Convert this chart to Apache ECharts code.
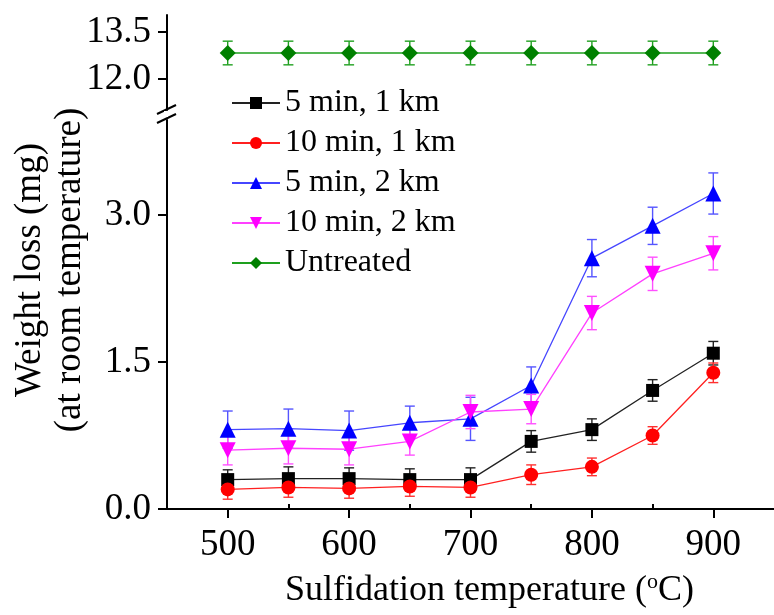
<!DOCTYPE html>
<html><head><meta charset="utf-8">
<script src="https://cdn.jsdelivr.net/npm/echarts@6/dist/echarts.min.js"></script>
<style>html,body{margin:0;padding:0;background:#fff}#c{width:774px;height:615px}</style>
</head><body><div id="c"></div>
<script>
// ---- data ----
const temps = [500, 550, 600, 650, 700, 750, 800, 850, 900];
const names = ['5 min, 1 km', '10 min, 1 km', '5 min, 2 km', '10 min, 2 km', 'Untreated'];
const v5min1km  = [0.30, 0.31, 0.31, 0.30, 0.30, 0.69, 0.81, 1.21, 1.59];
const e5min1km  = [0.10, 0.12, 0.11, 0.11, 0.12, 0.11, 0.11, 0.11, 0.12];
const v10min1km = [0.20, 0.22, 0.21, 0.23, 0.22, 0.35, 0.43, 0.75, 1.39];
const e10min1km = [0.10, 0.10, 0.10, 0.10, 0.10, 0.10, 0.09, 0.09, 0.10];
const v5min2km  = [0.81, 0.82, 0.80, 0.88, 0.92, 1.26, 2.56, 2.89, 3.22];
const e5min2km  = [0.19, 0.20, 0.20, 0.17, 0.22, 0.19, 0.19, 0.19, 0.21];
const v10min2km = [0.60, 0.62, 0.61, 0.69, 0.99, 1.02, 2.00, 2.40, 2.61];
const e10min2km = [0.15, 0.16, 0.16, 0.14, 0.17, 0.15, 0.17, 0.17, 0.17];
const vUntreated = [12.83, 12.83, 12.83, 12.83, 12.83, 12.83, 12.83, 12.83, 12.83];
const eUntreated = [0.38, 0.38, 0.38, 0.38, 0.38, 0.38, 0.38, 0.38, 0.38];
const xMajorTicks = [500, 600, 700, 800, 900];
const xMinorTicks = [550, 650, 750, 850];
const yLowMajor = [0, 1.5, 3.0];
const yLowMinor = [0.75, 2.25, 3.75];
const yUpMajor = [12.0, 13.5];
const yUpMinor = [11.25, 12.75];

const FONT = 'Liberation Serif';
const chart = echarts.init(document.getElementById('c'));

function pairs(v) { return temps.map((t, i) => [t, v[i]]); }
function errs(v, e) { return temps.map((t, i) => [t, v[i] - e[i], v[i] + e[i]]); }
function errRender(params, api) {
  const x = api.value(0), lo = api.value(1), hi = api.value(2);
  const p1 = api.coord([x, hi]), p2 = api.coord([x, lo]);
  const w = 5;
  const style = { stroke: api.visual('color'), lineWidth: 1.4 };
  return { type: 'group', children: [
    { type: 'line', shape: { x1: p1[0], y1: p1[1], x2: p2[0], y2: p2[1] }, style },
    { type: 'line', shape: { x1: p1[0] - w, y1: p1[1], x2: p1[0] + w, y2: p1[1] }, style },
    { type: 'line', shape: { x1: p2[0] - w, y1: p2[1], x2: p2[0] + w, y2: p2[1] }, style }
  ]};
}

const lineW = 1.3;
const specs = [
  { name: names[0], v: v5min1km, e: e5min1km, sym: 'rect', size: 13, rot: 0, mc: '#000000', lc: '#222222', ec: '#222222', grid: 0 },
  { name: names[1], v: v10min1km, e: e10min1km, sym: 'circle', size: 14, rot: 0, mc: '#ff0000', lc: '#ff2020', ec: '#ff3030', grid: 0 },
  { name: names[2], v: v5min2km, e: e5min2km, sym: 'triangle', size: 16, rot: 0, mc: '#0000ff', lc: '#4646ff', ec: '#5555ff', grid: 0 },
  { name: names[3], v: v10min2km, e: e10min2km, sym: 'triangle', size: 16, rot: 180, mc: '#ff00ff', lc: '#ff40ff', ec: '#ff50ff', grid: 0 },
  { name: names[4], v: vUntreated, e: eUntreated, sym: 'diamond', size: 16, rot: 0, mc: '#008000', lc: '#1ea01e', ec: '#20a020', grid: 1 }
];

const series = [];
specs.forEach(s => {
  const xi = s.grid === 0 ? 0 : 1;
  const yi = s.grid === 0 ? 0 : 2;
  series.push({
    type: 'custom', name: s.name + ' err', xAxisIndex: xi, yAxisIndex: yi,
    renderItem: errRender, encode: { x: 0, y: [1, 2] },
    itemStyle: { color: s.ec }, data: errs(s.v, s.e), z: 2, silent: true
  });
  series.push({
    type: 'line', name: s.name, xAxisIndex: xi, yAxisIndex: yi,
    data: pairs(s.v), symbol: s.sym, symbolSize: s.size, symbolRotate: s.rot,
    showAllSymbol: true,
    lineStyle: { color: s.lc, width: lineW },
    itemStyle: { color: s.mc, borderWidth: 0 },
    z: 3, animation: false
  });
});

const axisLabelStyle = { fontFamily: FONT, fontSize: 37, color: '#000' };
const axisLineStyle = { lineStyle: { color: '#000', width: 2 } };

chart.setOption({
  animation: false,
  backgroundColor: '#fff',
  textStyle: { fontFamily: FONT },
  grid: [
    { left: 167, top: 120, width: 612, height: 389, containLabel: false },
    { left: 167, top: 15, width: 612, height: 95, containLabel: false }
  ],
  xAxis: [
    { type: 'value', gridIndex: 0, min: 450, max: 950,
      axisLine: axisLineStyle,
      axisTick: { show: true, customValues: xMajorTicks, length: 9, lineStyle: { color: '#000', width: 2 } },
      axisLabel: Object.assign({ customValues: xMajorTicks, margin: 18 }, axisLabelStyle),
      splitLine: { show: false },
      name: '{a|Sulfidation temperature (}{s|o}{a|C)}', nameLocation: 'middle', nameGap: 62,
      nameTextStyle: { padding: [0, 0, 0, 38], rich: {
        a: { fontFamily: FONT, fontSize: 36, color: '#000', lineHeight: 40 },
        s: { fontFamily: FONT, fontSize: 22, color: '#000', verticalAlign: 'top', lineHeight: 40 }
      } } },
    { type: 'value', gridIndex: 1, min: 450, max: 950, show: false },
    { type: 'value', gridIndex: 0, min: 450, max: 950,
      axisLine: { show: false },
      axisTick: { show: true, customValues: xMinorTicks, length: 5, lineStyle: { color: '#000', width: 2 } },
      axisLabel: { show: false }, splitLine: { show: false } }
  ],
  yAxis: [
    { type: 'value', gridIndex: 0, min: 0, max: 3.97,
      axisLine: axisLineStyle,
      axisTick: { show: true, customValues: yLowMajor, length: 9, lineStyle: { color: '#000', width: 2 } },
      axisLabel: Object.assign({ customValues: yLowMajor, margin: 16, formatter: v => v.toFixed(1) }, axisLabelStyle),
      splitLine: { show: false } },
    { type: 'value', gridIndex: 0, min: 0, max: 3.97,
      axisLine: { show: false },
      axisTick: { show: true, customValues: yLowMinor, length: 5, lineStyle: { color: '#000', width: 2 } },
      axisLabel: { show: false }, splitLine: { show: false } },
    { type: 'value', gridIndex: 1, min: 11.0, max: 14.05,
      axisLine: axisLineStyle,
      axisTick: { show: true, customValues: yUpMajor, length: 9, lineStyle: { color: '#000', width: 2 } },
      axisLabel: Object.assign({ customValues: yUpMajor, margin: 16, formatter: v => v.toFixed(1) }, axisLabelStyle),
      splitLine: { show: false } },
    { type: 'value', gridIndex: 1, min: 11.0, max: 14.05,
      axisLine: { show: false },
      axisTick: { show: true, customValues: yUpMinor, length: 5, lineStyle: { color: '#000', width: 2 } },
      axisLabel: { show: false }, splitLine: { show: false } }
  ],
  legend: {
    data: names, orient: 'vertical', left: 226, top: 82,
    itemWidth: 48, itemHeight: 15, itemGap: 8,
    textStyle: { fontFamily: FONT, fontSize: 32, color: '#000' },
    selectedMode: false
  },
  graphic: [
    { type: 'text', x: 50, y: 270, rotation: Math.PI / 2,
      style: { text: 'Weight loss (mg)\n(at room temperature)', font: '37px "Liberation Serif"',
        fill: '#000', align: 'center', verticalAlign: 'middle', lineHeight: 40 } },
    { type: 'line', shape: { x1: 157, y1: 114, x2: 176, y2: 105 }, style: { stroke: '#000', lineWidth: 2 } },
    { type: 'line', shape: { x1: 157, y1: 123, x2: 176, y2: 114 }, style: { stroke: '#000', lineWidth: 2 } },
    { type: 'rect', shape: { x: 164, y: 111, width: 4, height: 6 }, style: { fill: '#fff' }, z: 10 }
  ],
  series: series
});
</script></body></html>
